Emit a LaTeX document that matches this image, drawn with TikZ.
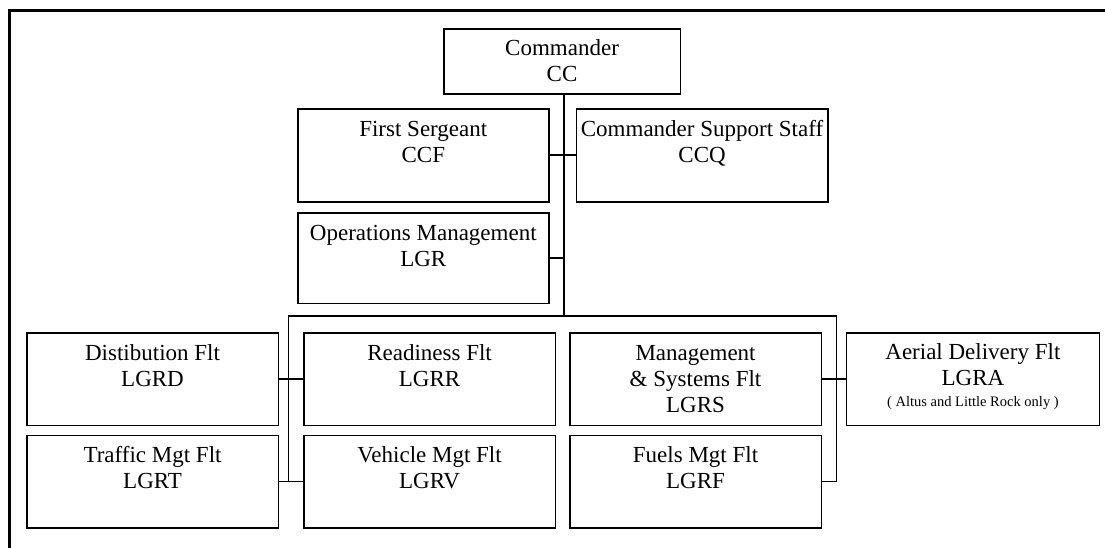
\documentclass[tikz,border=0pt]{standalone}
\usepackage{fontspec}
\setmainfont{Liberation Serif}
\begin{document}
\begin{tikzpicture}[x=1pt,y=-1pt,
  box/.style={draw=black, line width=1.6pt, inner sep=0pt, anchor=north west},
  lbl/.style={font=\fontsize{23}{26}\selectfont, align=center, inner sep=0pt, anchor=north},
  note/.style={font=\fontsize{14.5}{17}\selectfont, inner sep=0pt, anchor=base},
  conn/.style={draw=black, line width=1.6pt, line join=miter},
  frame/.style={draw=black, line width=3pt, line join=miter}]
\useasboundingbox (0,0) rectangle (1105,548);
\fill[white] (0,0) rectangle (1105,548);
% outer frame
\draw[frame] (9.5,548) -- (9.5,10.5) -- (1105,10.5);
% boxes
\node[box, minimum width=236.5pt, minimum height=65.2pt] (cc) at (443,28.3) {};
\node[box, minimum width=251pt, minimum height=93pt] (ccf) at (297,108) {};
\node[box, minimum width=251.5pt, minimum height=93pt] (ccq) at (575.5,108) {};
\node[box, minimum width=251pt, minimum height=90.5pt] (lgr) at (297,212) {};
\node[box, minimum width=251.5pt, minimum height=92.3pt] (lgrd) at (26,332.3) {};
\node[box, minimum width=251.5pt, minimum height=92.3pt] (lgrr) at (303,332.3) {};
\node[box, minimum width=251.5pt, minimum height=92.3pt] (lgrs) at (569,332.3) {};
\node[box, minimum width=252.8pt, minimum height=92.3pt] (lgra) at (845.7,332.3) {};
\node[box, minimum width=251.5pt, minimum height=92.3pt] (lgrt) at (26,434.6) {};
\node[box, minimum width=251.5pt, minimum height=92.3pt] (lgrv) at (303,434.6) {};
\node[box, minimum width=251.5pt, minimum height=92.3pt] (lgrf) at (569,434.6) {};
% labels
\node[lbl] (tcc) at ([yshift=-9.3pt]cc.north) {\strut Commander\\CC};
\node[lbl] (tccf) at ([yshift=-9.8pt]ccf.north) {\strut First Sergeant\\CCF};
\node[lbl] (tccq) at ([yshift=-9.8pt]ccq.north) {\strut Commander Support Staff\\CCQ};
\node[lbl] (tlgr) at ([yshift=-9.8pt]lgr.north) {\strut Operations Management\\LGR};
\node[lbl] (tlgrd) at ([yshift=-9.8pt]lgrd.north) {\strut Distibution Flt\\LGRD};
\node[lbl] (tlgrr) at ([yshift=-9.8pt]lgrr.north) {\strut Readiness Flt\\LGRR};
\node[lbl] (tlgrs) at ([yshift=-9.3pt]lgrs.north) {\strut Management\\\& Systems Flt\\LGRS};
\node[lbl] (tlgra) at ([yshift=-8.8pt]lgra.north) {\strut Aerial Delivery Flt\\LGRA};
\node[note] (nlgra) at ([yshift=-74.5pt]lgra.north) {( Altus and Little Rock only )};
\node[lbl] (tlgrt) at ([yshift=-9.8pt]lgrt.north) {\strut Traffic Mgt Flt\\LGRT};
\node[lbl] (tlgrv) at ([yshift=-9.8pt]lgrv.north) {\strut Vehicle Mgt Flt\\LGRV};
\node[lbl] (tlgrf) at ([yshift=-9.8pt]lgrf.north) {\strut Fuels Mgt Flt\\LGRF};
% connectors
\coordinate (j) at (563.7,316);
\coordinate (bl) at (288.6,316);
\coordinate (br) at (836.3,316);
\draw[conn] (cc.south -| j) -- (j);
\draw[conn] (ccf.east) -- (ccq.west);
\draw[conn] (lgr.east) -- (lgr.east -| j);
\draw[conn] (bl |- lgrt.east) -- (bl) -- (br) -- (br |- lgrf.east);
\draw[conn] (lgrd.east) -- (lgrr.west);
\draw[conn] (lgrt.east) -- (lgrv.west);
\draw[conn] (lgrs.east) -- (lgra.west);
\draw[conn] (lgrf.east) -- (lgrf.east -| br);
\end{tikzpicture}
\end{document}
